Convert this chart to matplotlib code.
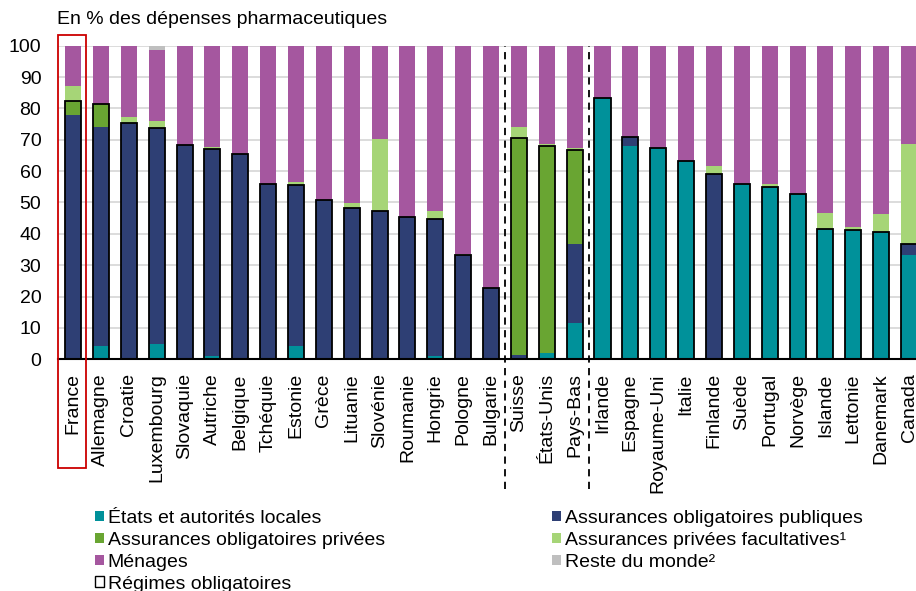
import numpy as np
import matplotlib
matplotlib.use("Agg")
import matplotlib.pyplot as plt
from matplotlib.patches import Patch, Rectangle

plt.rcParams['font.family'] = ['Liberation Sans', 'DejaVu Sans']

pays = ["France", "Allemagne", "Croatie", "Luxembourg", "Slovaquie", "Autriche",
        "Belgique", "Tchéquie", "Estonie", "Grèce", "Lituanie", "Slovénie",
        "Roumanie", "Hongrie", "Pologne", "Bulgarie", "Suisse", "États-Unis",
        "Pays-Bas", "Irlande", "Espagne", "Royaume-Uni", "Italie", "Finlande",
        "Suède", "Portugal", "Norvège", "Islande", "Lettonie", "Danemark", "Canada"]

etats = [0, 4.2, 0, 4.9, 0, 1.0, 0, 0, 4.2, 0, 0, 0, 0, 1.0, 0.3, 0.3,
         0, 2.1, 11.5, 83.2, 68.1, 67.3, 63.2, 0, 56.0, 55.0, 52.7, 41.5, 41.3, 40.5, 33.2]
publiques = [78.0, 70.0, 75.5, 68.9, 68.4, 66.0, 65.6, 55.8, 51.3, 50.9, 48.3, 47.4,
             45.3, 43.6, 32.9, 22.3, 1.4, 0, 25.4, 0, 2.8, 0, 0, 59.1,
             0, 0, 0, 0, 0, 0, 3.7]
obl_privees = [4.4, 7.1, 0, 0, 0, 0, 0, 0, 0, 0, 0, 0, 0, 0, 0, 0,
               69.1, 65.8, 29.8, 0, 0, 0, 0, 0, 0, 0, 0, 0, 0, 0, 0]
facultatives = [4.9, 0, 1.9, 2.1, 0, 0.6, 0, 0, 0.9, 0, 1.4, 22.7, 0, 2.7, 0.3, 0,
                3.5, 0.7, 0.7, 0, 0, 0, 0, 2.5, 0, 0.8, 0, 5.3, 0.8, 5.9, 31.8]
menages = [12.7, 18.7, 22.6, 22.7, 31.6, 32.4, 34.4, 44.2, 43.6, 49.1, 50.3, 29.9,
           54.7, 52.7, 66.5, 77.4, 26.0, 31.4, 32.6, 16.8, 29.1, 32.7, 36.8, 38.4,
           44.0, 44.2, 47.3, 53.2, 57.9, 53.6, 31.3]
reste = [0, 0, 0, 1.4] + [0] * 27

series = [("États et autorités locales", etats, "#00919A"),
          ("Assurances obligatoires publiques", publiques, "#2E3F74"),
          ("Assurances obligatoires privées", obl_privees, "#69A532"),
          ("Assurances privées facultatives¹", facultatives, "#A6D577"),
          ("Ménages", menages, "#A5579F"),
          ("Reste du monde²", reste, "#BFBFBF")]

fig = plt.figure(figsize=(9.16, 5.91), dpi=100)
ax = fig.add_axes([58 / 916, (591 - 359.3) / 591, 858 / 916, 313.6 / 591])

x = np.arange(len(pays))
w = 0.575
bas = np.zeros(len(pays))
for nom, vals, c in series:
    v = np.array(vals)
    ax.bar(x, v, w, bottom=bas, color=c, linewidth=0, zorder=2)
    bas += v

# contour des régimes obligatoires
oblig = np.array(etats) + np.array(publiques) + np.array(obl_privees)
ax.bar(x, oblig, w, fill=False, edgecolor="black", linewidth=1.3, zorder=3)

ax.set_xlim(-0.54, 30.25)
ax.set_ylim(0, 100)
ax.set_yticks(range(0, 101, 10))
ax.yaxis.grid(True, color="#D9D9D9", linewidth=1.3, zorder=0)
ax.set_axisbelow(True)
for s in ["top", "right", "left"]:
    ax.spines[s].set_visible(False)
ax.spines["bottom"].set_linewidth(1.5)
ax.tick_params(axis="y", length=0, labelsize=14, pad=12)
ax.tick_params(axis="x", length=0, labelsize=14, pad=10)
ax.set_xticks(x)
ax.set_xticklabels(pays, rotation=90, va="top", ha="center")

# séparateurs
for xs in [15.5, 18.5]:
    ax.plot([xs, xs], [-41.5, 100], color="black", linestyle=(0, (4, 3)),
            linewidth=1.3, clip_on=False, zorder=4)

# cadre rouge autour de la France
ax.add_patch(Rectangle((-0.54, -34.7), 1.0, 138.1, fill=False, edgecolor="#CC0000",
                       linewidth=1.3, clip_on=False, zorder=5))

fig.text(57 / 916, 1 - 20 / 591, "En % des dépenses pharmaceutiques", fontsize=14,
         va="center", ha="left")

h = {nom: Patch(facecolor=c, edgecolor="none") for nom, vals, c in series}
regimes = Patch(facecolor="white", edgecolor="black", linewidth=1.0)
col1 = ["États et autorités locales", "Assurances obligatoires privées", "Ménages"]
col2 = ["Assurances obligatoires publiques", "Assurances privées facultatives¹", "Reste du monde²"]
opts = dict(loc="upper left", frameon=False, fontsize=14, handlelength=0.45,
            handleheight=0.45, handletextpad=0.2, labelspacing=0.25,
            borderpad=0, borderaxespad=0)
leg1 = fig.legend([h[n] for n in col1] + [regimes], col1 + ["Régimes obligatoires"],
                  bbox_to_anchor=(95 / 916, 1 - 510 / 591), **opts)
leg2 = fig.legend([h[n] for n in col2], col2,
                  bbox_to_anchor=(552 / 916, 1 - 510 / 591), **opts)

fig.savefig("out.png", dpi=100)
